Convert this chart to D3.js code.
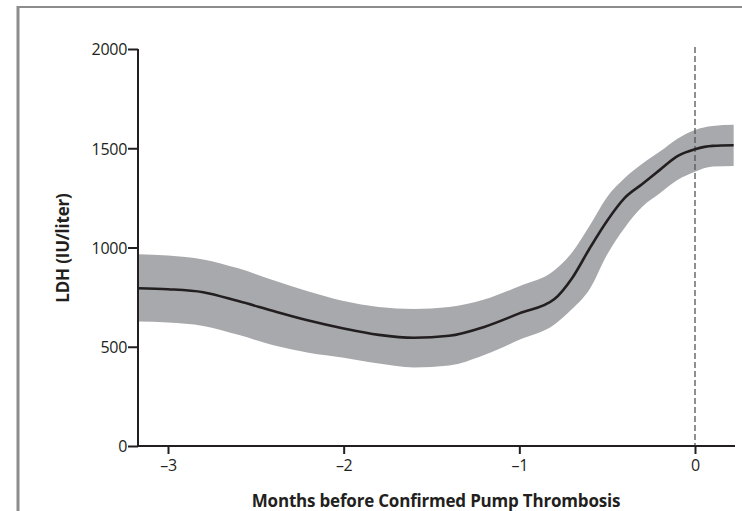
<!DOCTYPE html>
<html>
<head>
<meta charset="utf-8">
<script src="https://cdn.jsdelivr.net/npm/d3@7"></script>
<style>
  html, body { margin: 0; padding: 0; background: #fff; }
  svg { display: block; }
</style>
</head>
<body>
<div id="chart"></div>
<script>
// months before confirmed pump thrombosis
const months = [-3.17, -3.0, -2.8, -2.6, -2.4, -2.2, -2.0, -1.8, -1.6, -1.4, -1.2, -1.0,
  -0.8, -0.7, -0.6, -0.5, -0.4, -0.3, -0.2, -0.1, 0, 0.1, 0.22]
// LDH mean estimate (IU/liter)
const ldhMean = [795, 790, 775, 730, 680, 632, 592, 560, 545, 555, 600, 668,
  740, 845, 995, 1135, 1250, 1320, 1391, 1460, 1495, 1512, 1515]
// confidence band
const ldhUpper = [966, 960, 940, 895, 835, 778, 730, 700, 690, 700, 738, 805,
  885, 975, 1110, 1255, 1350, 1422, 1483, 1548, 1592, 1612, 1618]
const ldhLower = [627, 622, 605, 560, 508, 470, 445, 415, 395, 405, 458, 535,
  612, 690, 790, 965, 1100, 1205, 1273, 1340, 1382, 1408, 1411]

const xTicks = [-3, -2, -1, 0]
const yTicks = [0, 500, 1000, 1500, 2000]

const W = 742, H = 511
const FONT = "'Open Sans', 'Liberation Sans', sans-serif"

const svg = d3.select('#chart').append('svg')
  .attr('width', W).attr('height', H)

// frame of the original figure panel
svg.append('line')
  .attr('x1', 18).attr('y1', 7).attr('x2', W).attr('y2', 7)
  .attr('stroke', '#8c8c8c').attr('stroke-width', 2)
svg.append('line')
  .attr('x1', 18).attr('y1', 6).attr('x2', 18).attr('y2', H)
  .attr('stroke', '#8c8c8c').attr('stroke-width', 3)

const x = d3.scaleLinear().domain([-3, 0]).range([168, 695])
const y = d3.scaleLinear().domain([0, 2000]).range([446, 49])
const xLeft = 138, xRight = 735

const data = months.map((m, i) => ({ m, mean: ldhMean[i], lo: ldhLower[i], hi: ldhUpper[i] }))

// confidence band
const area = d3.area()
  .x(d => x(d.m))
  .y0(d => y(d.lo))
  .y1(d => y(d.hi))
  .curve(d3.curveMonotoneX)

svg.append('path')
  .datum(data)
  .attr('d', area)
  .attr('fill', '#a8a9ac')

// dashed reference at time of confirmation
svg.append('line')
  .attr('x1', x(0)).attr('x2', x(0))
  .attr('y1', y(2000) - 2).attr('y2', y(0))
  .attr('stroke', '#555').attr('stroke-width', 1.3)
  .attr('stroke-dasharray', '6,3')

// mean line
const line = d3.line()
  .x(d => x(d.m))
  .y(d => y(d.mean))
  .curve(d3.curveMonotoneX)

svg.append('path')
  .datum(data)
  .attr('d', line)
  .attr('fill', 'none')
  .attr('stroke', '#231f20')
  .attr('stroke-width', 2.6)

// axes
const xAxis = svg.append('g')
  .attr('transform', `translate(0,${y(0)})`)
  .call(d3.axisBottom(x).tickValues(xTicks).tickSize(8).tickPadding(6)
    .tickFormat(d => d < 0 ? '\u2013' + Math.abs(d) : String(d)))
xAxis.select('.domain')
  .attr('d', `M${xLeft},0H${xRight}`)

const yAxis = svg.append('g')
  .attr('transform', `translate(${xLeft},0)`)
  .call(d3.axisLeft(y).tickValues(yTicks).tickSize(10).tickPadding(1)
    .tickFormat(d3.format('d')))
yAxis.select('.domain')
  .attr('d', `M0,${y(2000)}V${y(0)}`)

svg.selectAll('.domain, .tick line')
  .attr('stroke', '#231f20').attr('stroke-width', 2)
svg.selectAll('.tick text')
  .attr('font-family', FONT).attr('font-size', 16).attr('fill', '#231f20')
  .attr('letter-spacing', -0.3)
yAxis.selectAll('.tick text').attr('dy', '0.36em')

// axis titles
svg.append('text')
  .attr('x', 436).attr('y', 507)
  .attr('text-anchor', 'middle')
  .attr('font-family', FONT).attr('font-weight', 700).attr('font-size', 17)
  .attr('letter-spacing', -0.2)
  .attr('fill', '#231f20')
  .text('Months before Confirmed Pump Thrombosis')

svg.append('text')
  .attr('transform', 'translate(69,248) rotate(-90)')
  .attr('text-anchor', 'middle')
  .attr('font-family', FONT).attr('font-weight', 700).attr('font-size', 17)
  .attr('letter-spacing', -0.2)
  .attr('fill', '#231f20')
  .text('LDH (IU/liter)')
</script>
</body>
</html>
